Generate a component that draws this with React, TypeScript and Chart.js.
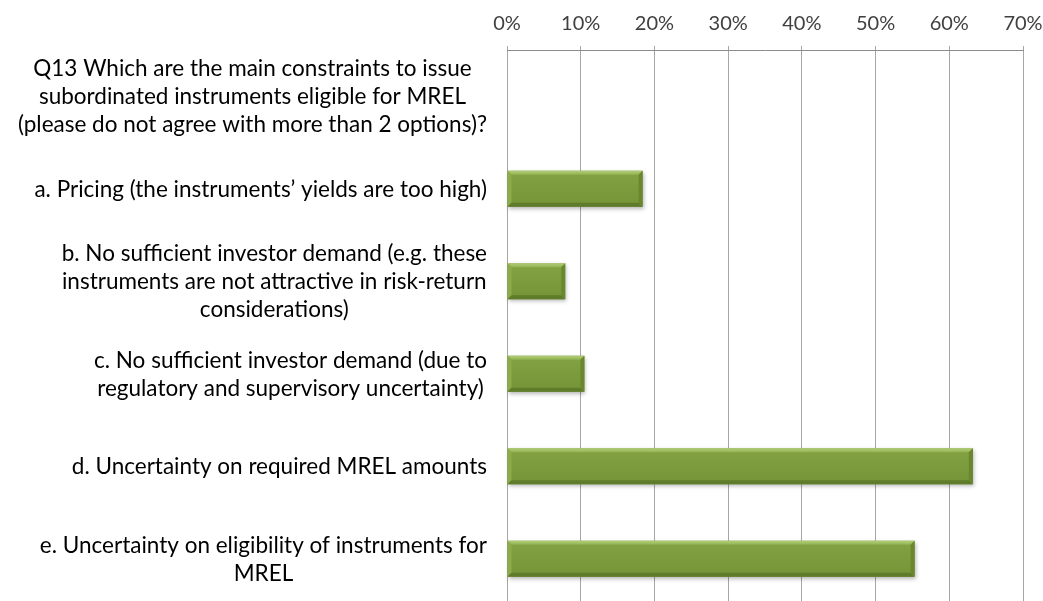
import React, { useEffect, useRef } from 'react';
import { Chart, registerables } from 'chart.js';

Chart.register(...registerables);

const categories: string[][] = [
  ['Q13 Which are the main constraints to issue', 'subordinated instruments eligible for MREL', '(please do not agree with more than 2 options)?'],
  ['a. Pricing (the instruments\u2019 yields are too high)'],
  ['b. No sufficient investor demand (e.g. these', 'instruments are not attractive in risk-return', 'considerations)'],
  ['c. No sufficient investor demand (due to', 'regulatory and supervisory uncertainty)'],
  ['d. Uncertainty on required MREL amounts'],
  ['e. Uncertainty on eligibility of instruments for', 'MREL'],
];
const values: (number | null)[] = [null, 18.4, 7.9, 10.5, 63.2, 55.3];
const xMin = 0;
const xMax = 70;
const xStep = 10;

const LABEL_SIZE = 22.5;
const LABEL_FONT = LABEL_SIZE + 'px Lato, "Open Sans", sans-serif';
const LABEL_LINE = 28;
const LABEL_RIGHT = 487;

const labelPlugin = {
  id: 'blockLabels',
  afterDraw(chart: any) {
    const ctx = chart.ctx;
    const y = chart.scales.y;
    ctx.save();
    ctx.font = LABEL_FONT;
    ctx.fillStyle = '#000000';
    ctx.textAlign = 'center';
    ctx.textBaseline = 'alphabetic';
    const capHalf = (LABEL_SIZE * 0.72) / 2;
    categories.forEach((lines, i) => {
      const cy = y.getPixelForValue(i);
      const maxW = Math.max(...lines.map((l) => ctx.measureText(l).width));
      const cx = LABEL_RIGHT - maxW / 2;
      const y0 = cy - ((lines.length - 1) * LABEL_LINE) / 2 + capHalf;
      lines.forEach((l, k) => ctx.fillText(l, cx, y0 + k * LABEL_LINE));
    });
    ctx.restore();
  },
};

const bevelPlugin = {
  id: 'bevelBars',
  afterDatasetsDraw(chart: any) {
    const ctx = chart.ctx;
    const meta = chart.getDatasetMeta(0);
    meta.data.forEach((el: any, i: number) => {
      if (values[i] == null) return;
      const { x, y, base, height } = el.getProps(['x', 'y', 'base', 'height'], true);
      const l = Math.min(x, base);
      const r = Math.max(x, base);
      const t = y - height / 2;
      const b = y + height / 2;
      const w = r - l;
      const h = b - t;
      const bv = 4;
      ctx.save();
      ctx.shadowColor = 'rgba(0,0,0,0.28)';
      ctx.shadowBlur = 4;
      ctx.shadowOffsetX = 1;
      ctx.shadowOffsetY = 2;
      const g = ctx.createLinearGradient(0, t, 0, b);
      g.addColorStop(0, '#83a343');
      g.addColorStop(0.5, '#7c9b3d');
      g.addColorStop(1, '#759437');
      ctx.fillStyle = g;
      ctx.fillRect(l, t, w, h);
      ctx.restore();
      ctx.save();
      ctx.beginPath();
      ctx.moveTo(l, t);
      ctx.lineTo(r, t);
      ctx.lineTo(r - bv, t + bv);
      ctx.lineTo(l + bv, t + bv);
      ctx.closePath();
      const gt = ctx.createLinearGradient(0, t, 0, t + bv);
      gt.addColorStop(0, '#b2ce7a');
      gt.addColorStop(1, '#93b351');
      ctx.fillStyle = gt;
      ctx.fill();
      ctx.beginPath();
      ctx.moveTo(l, t);
      ctx.lineTo(l + bv, t + bv);
      ctx.lineTo(l + bv, b - bv);
      ctx.lineTo(l, b);
      ctx.closePath();
      ctx.fillStyle = '#8cab4b';
      ctx.fill();
      ctx.beginPath();
      ctx.moveTo(l, b);
      ctx.lineTo(l + bv, b - bv);
      ctx.lineTo(r - bv, b - bv);
      ctx.lineTo(r, b);
      ctx.closePath();
      ctx.fillStyle = '#5f7c2b';
      ctx.fill();
      ctx.beginPath();
      ctx.moveTo(r, t);
      ctx.lineTo(r, b);
      ctx.lineTo(r - bv, b - bv);
      ctx.lineTo(r - bv, t + bv);
      ctx.closePath();
      ctx.fillStyle = '#68872f';
      ctx.fill();
      ctx.restore();
    });
  },
};

export default function App() {
  const ref = useRef<HTMLCanvasElement | null>(null);
  useEffect(() => {
    if (!ref.current) return;
    const chart = new Chart(ref.current, {
      type: 'bar',
      data: {
        labels: categories.map((c) => c.join(' ')),
        datasets: [
          {
            data: values as any,
            backgroundColor: 'rgba(0,0,0,0)',
            borderWidth: 0,
            barPercentage: 0.39,
            categoryPercentage: 1,
          },
        ],
      },
      options: {
        indexAxis: 'y',
        animation: false,
        responsive: true,
        maintainAspectRatio: false,
        layout: { padding: { left: 507, right: 20, top: 0, bottom: 5 } },
        plugins: { legend: { display: false }, tooltip: { enabled: false } },
        scales: {
          x: {
            position: 'top',
            min: xMin,
            max: xMax,
            afterFit: (s: any) => {
              s.height = 50;
              s.paddingLeft = 0;
              s.paddingRight = 0;
              s.paddingTop = 0;
              s.paddingBottom = 0;
            },
            ticks: {
              stepSize: xStep,
              callback: (v: any) => v + '%',
              color: '#404040',
              font: { family: 'Lato, "Open Sans", sans-serif', size: 20 },
              padding: 10,
            },
            grid: { color: '#a6a6a6', lineWidth: 1, tickLength: 4, drawTicks: true },
            border: { display: true, color: '#8c8c8c' },
          },
          y: {
            display: false,
            grid: { display: false },
          },
        },
      },
      plugins: [bevelPlugin, labelPlugin],
    });
    return () => chart.destroy();
  }, []);
  return (
    <div style={{ position: 'absolute', left: 0, top: 0, width: 1043, height: 601, overflow: 'hidden' }}>
      <div style={{ position: 'relative', width: 1043, height: 610 }}>
        <canvas ref={ref} />
      </div>
    </div>
  );
}
